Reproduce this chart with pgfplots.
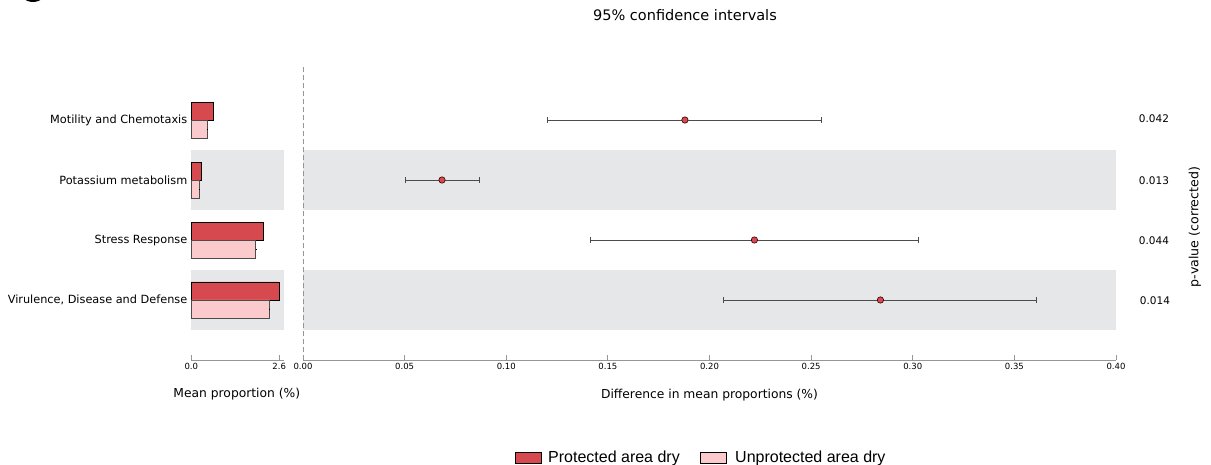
\documentclass[border=0pt]{standalone}
\usepackage{pgfplots}
\pgfplotsset{compat=1.18}
\usepackage{fontspec}
\setmainfont{DejaVu Sans}
\newfontfamily\legfont{Liberation Sans}
\definecolor{redc}{RGB}{214,74,79}
\definecolor{pinkc}{RGB}{250,202,205}
\definecolor{bandc}{RGB}{230,231,233}
\definecolor{axc}{RGB}{150,150,150}
\pgfplotsset{
  common/.style={
    scale only axis, anchor=south west,
    ymin=-1, ymax=3.917, height=295pt,
    axis x line*=bottom, axis y line*=left,
    y axis line style={draw=none},
    x axis line style={axc, line width=0.8pt},
    xtick align=inside,
    major tick length=5pt,
    xtick style={axc, line width=0.8pt},
    ytick style={draw=none},
    tick label style={font=\fontsize{8.5}{9}\selectfont},
    /pgf/number format/assume math mode=true,
    clip=false,
  }
}
\begin{document}
\begin{tikzpicture}[x=1pt,y=1pt]
\useasboundingbox (0,0) rectangle (1211,465);
\fill[black] (33,478) circle (15);
% left axis
\begin{axis}[common, at={(191.3pt,105pt)}, width=93pt,
  xmin=0, xmax=2.75,
  xtick={0,2.6}, xticklabels={0.0,2.6},
  ytick={0,1,2,3},
  yticklabels={{Virulence, Disease and Defense},{Stress Response},{Potassium metabolism},{Motility and Chemotaxis}},
  yticklabel style={font=\fontsize{11.3}{13}\selectfont, xshift=-0.5pt},
  xlabel={Mean proportion (\%)},
  xlabel style={font=\fontsize{12.3}{14}\selectfont, yshift=-11pt, xshift=-1pt},
]
\addplot[fill=bandc, draw=none] coordinates {(0,1.5) (2.75,1.5) (2.75,2.5) (0,2.5)} -- cycle;
\addplot[fill=bandc, draw=none] coordinates {(0,-0.5) (2.75,-0.5) (2.75,0.5) (0,0.5)} -- cycle;
\addplot[xbar, bar width=0.3, fill=redc, draw=black, line width=0.7pt,
  error bars/.cd, x dir=plus, x explicit, error bar style={black, line width=0.8pt}, error mark=none]
  coordinates {(0.655,3.15) +- (0.015,0) (0.29,2.15) +- (0.01,0) (2.13,1.15) +- (0.03,0) (2.59,0.15) +- (0.03,0)};
\addplot[xbar, bar width=0.3, fill=pinkc, draw=black!70, line width=0.7pt,
  error bars/.cd, x dir=plus, x explicit, error bar style={black, line width=0.8pt}, error mark=none]
  coordinates {(0.47,2.85) +- (0.01,0) (0.235,1.85) +- (0.01,0) (1.90,0.85) +- (0.02,0) (2.31,-0.15) +- (0.03,0)};
\end{axis}
% right axis
\begin{axis}[common, at={(303pt,105pt)}, width=813pt,
  xmin=0, xmax=0.4,
  xtick={0,0.05,...,0.41},
  xticklabel={\pgfmathprintnumber[fixed,fixed zerofill,precision=2]{\tick}},
  ytick=\empty,
  xlabel={Difference in mean proportions (\%)},
  xlabel style={font=\fontsize{12.3}{14}\selectfont, yshift=-12pt},
]
\addplot[fill=bandc, draw=none] coordinates {(0,1.5) (0.4,1.5) (0.4,2.5) (0,2.5)} -- cycle;
\addplot[fill=bandc, draw=none] coordinates {(0,-0.5) (0.4,-0.5) (0.4,0.5) (0,0.5)} -- cycle;
\addplot[axc, line width=0.8pt, dash pattern=on 5pt off 3pt] coordinates {(0,-1) (0,3.917)};
\addplot[only marks, mark=*, mark size=3.2pt, mark options={fill=redc, draw=black!80!red, line width=0.6pt},
  error bars/.cd, x dir=both, x explicit,
  error bar style={black!70, line width=0.9pt},
  error mark options={rotate=90, mark size=3pt, black!70, line width=0.9pt}]
  coordinates {
   (0.1879,3) +- (0.0674,0)
   (0.0684,2) +- (0.0182,0)
   (0.2221,1) +- (0.0805,0)
   (0.2841,0) +- (0.0770,0)
  };
\end{axis}
\node[font=\fontsize{14.5}{16}\selectfont] at (685,450) {95\% confidence intervals};
\begin{scope}[font=\fontsize{10.5}{12}\selectfont]
\node at (1154,346) {0.042};
\node at (1154,284) {0.013};
\node at (1154,224) {0.044};
\node at (1155,164) {0.014};
\end{scope}
\node[rotate=90, font=\fontsize{12.6}{14}\selectfont] at (1195,238) {p-value (corrected)};
% legend
\begin{scope}[font=\legfont\fontsize{16}{18}\selectfont]
\draw[fill=redc, draw=black, line width=0.8pt] (515,2) rectangle (541,13);
\node[anchor=west, inner sep=0pt] at (548,7) {Protected area dry};
\draw[fill=pinkc, draw=black, line width=0.8pt] (700,2) rectangle (726,13);
\node[anchor=west, inner sep=0pt] at (735,7) {Unprotected area dry};
\end{scope}
\end{tikzpicture}
\end{document}
